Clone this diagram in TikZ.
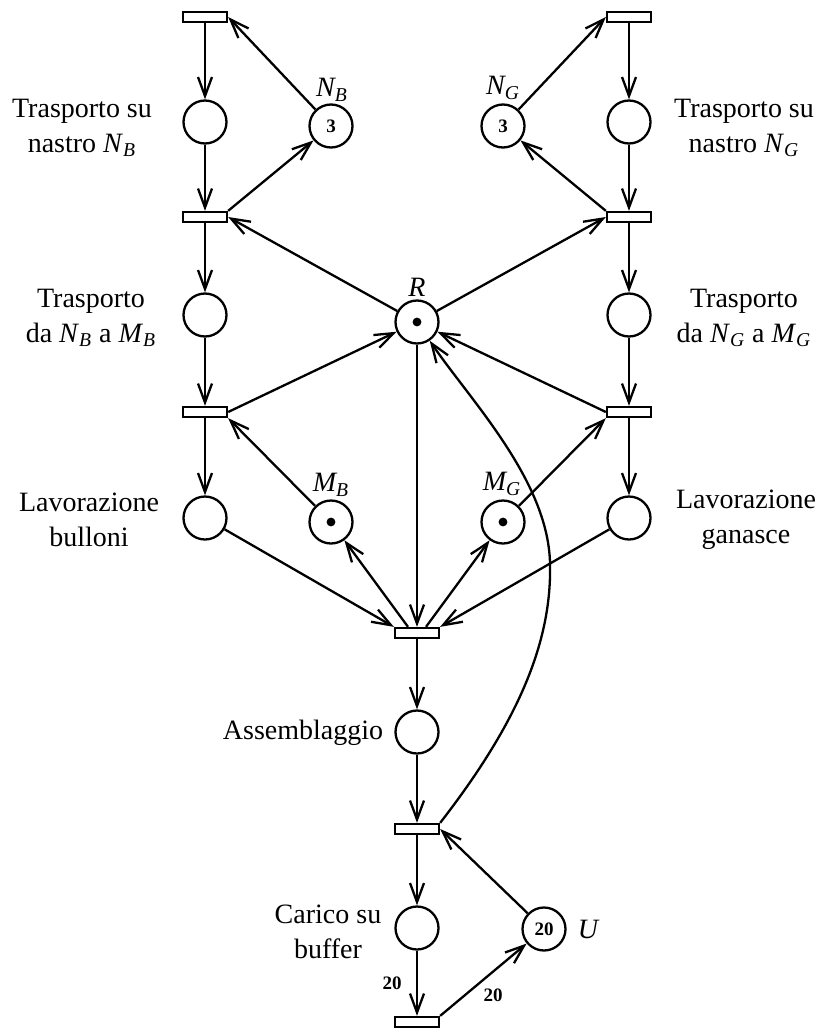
\documentclass[tikz,border=0pt]{standalone}
\usepackage{fontspec}
\setmainfont{Liberation Serif}
\usetikzlibrary{arrows.meta}
\newcommand\sbs[2]{\textit{#1}\textsubscript{\textit{#2}}}
\begin{document}
\begin{tikzpicture}[x=0.5pt,y=-0.5pt,
  place/.style={circle,draw,line width=1.15pt,minimum size=21.5pt,inner sep=0pt,font=\fontsize{9.5}{11}\selectfont\bfseries},
  trans/.style={rectangle,draw,line width=1.15pt,minimum width=22pt,minimum height=5pt,inner sep=0pt,fill=white},
  arc/.style={line width=1.15pt,-{Straight Barb[length=9.5pt,width=7pt,line width=1.15pt]}},
  lbl/.style={font=\fontsize{14}{17.5}\selectfont,align=center,inner sep=0pt},
  plbl/.style={font=\fontsize{14}{17.5}\selectfont\itshape,inner sep=0pt},
  wlbl/.style={font=\fontsize{9.5}{11}\selectfont\bfseries,inner sep=0pt},
  token/.style={fill=black}
]
\useasboundingbox (0,0) rectangle (822,1033);

% left column
\node[trans] (tL1) at (205,17) {};
\node[place] (pL1) at (205,122) {};
\node[trans] (tL2) at (205,217) {};
\node[place] (pL2) at (205,315) {};
\node[trans] (tL3) at (205,412) {};
\node[place] (pL3) at (205,518) {};
\node[place] (NB) at (331,126) {3};
\node[place] (MB) at (331,522) {};

% right column
\node[trans] (tR1) at (629,17) {};
\node[place] (pR1) at (629,122) {};
\node[trans] (tR2) at (629,217) {};
\node[place] (pR2) at (629,315) {};
\node[trans] (tR3) at (629,412) {};
\node[place] (pR3) at (629,518) {};
\node[place] (NG) at (503,126) {3};
\node[place] (MG) at (503,522) {};

% center
\node[place] (R) at (417,322) {};
\node[trans] (tC) at (417,633) {};
\node[place] (pA) at (417,732) {};
\node[trans] (tD) at (417,829) {};
\node[place] (pC) at (417,928) {};
\node[place] (U) at (544,929) {20};
\node[trans] (tE) at (417,1022) {};

% tokens
\fill[token] (R.center) circle[radius=2.2pt];
\fill[token] (MB.center) circle[radius=2.2pt];
\fill[token] (MG.center) circle[radius=2.2pt];

% labels
\node[lbl] (lpL1) at (82,128) {Trasporto su\\nastro \sbs{N}{B}};
\node[lbl] (lpL2) at (91,318) {Trasporto\\da \sbs{N}{B} a \sbs{M}{B}};
\node[lbl] (lpL3) at (89,520) {Lavorazione\\bulloni};
\node[lbl] (lpR1) at (744,128) {Trasporto su\\nastro \sbs{N}{G}};
\node[lbl] (lpR2) at (744,318) {Trasporto\\da \sbs{N}{G} a \sbs{M}{G}};
\node[lbl] (lpR3) at (746,520) {Lavorazione\\ganasce};
\node[lbl] (lpA) at (303,733) {Assemblaggio};
\node[lbl] (lpC) at (328,932) {Carico su\\buffer};
\node[plbl] (lNB) at (332,90) {\sbs{N}{B}};
\node[plbl] (lNG) at (503,88) {\sbs{N}{G}};
\node[plbl] (lR) at (417,287) {R};
\node[plbl] (lMB) at (331,485) {\sbs{M}{B}};
\node[plbl] (lMG) at (502,484) {\sbs{M}{G}};
\node[plbl] (lU) at (588,929) {U};

% left arcs
\draw[arc] (tL1) -- (pL1);
\draw[arc] (pL1) -- (tL2);
\draw[arc] (NB) -- (tL1.east);
\draw[arc] (tL2.north east) -- (NB);
\draw[arc] (tL2) -- (pL2);
\draw[arc] (R) -- (tL2.east);
\draw[arc] (pL2) -- (tL3);
\draw[arc] (tL3.east) -- (R);
\draw[arc] (tL3) -- (pL3);
\draw[arc] (MB) -- (tL3.south east);
\draw[arc] (pL3) -- (tC.north west);
\draw[arc] ([xshift=-4.5pt]tC.north) -- (MB);

% right arcs
\draw[arc] (tR1) -- (pR1);
\draw[arc] (pR1) -- (tR2);
\draw[arc] (NG) -- (tR1.west);
\draw[arc] (tR2.north west) -- (NG);
\draw[arc] (tR2) -- (pR2);
\draw[arc] (R) -- (tR2.west);
\draw[arc] (pR2) -- (tR3);
\draw[arc] (tR3.west) -- (R);
\draw[arc] (tR3) -- (pR3);
\draw[arc] (MG) -- (tR3.south west);
\draw[arc] (pR3) -- (tC.north east);
\draw[arc] ([xshift=4.5pt]tC.north) -- (MG);

% center arcs
\draw[arc] (R) -- (tC);
\draw[arc] (tC) -- (pA);
\draw[arc] (pA) -- (tD);
\coordinate (bulge) at (550,563);
\draw[arc] (tD.north east) .. controls (520,720) and (552,640) .. (bulge)
  .. controls (548,480) and (470,400) .. (R);
\draw[arc] (tD) -- (pC);
\draw[arc] (pC) -- node[wlbl,pos=0.5,xshift=-12.5pt] (w1) {20} (tE);
\draw[arc] (tE.north east) -- (U);
\node[wlbl] (w2) at (493,995) {20};
\draw[arc] (U) -- (tD.east);
\end{tikzpicture}
\end{document}
